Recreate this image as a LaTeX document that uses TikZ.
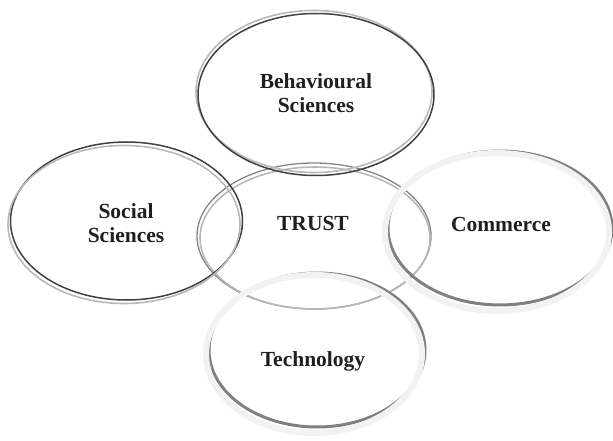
\documentclass[tikz,border=0pt]{standalone}
\usepackage{fontspec}
\setmainfont{Liberation Serif}
\begin{document}
\begin{tikzpicture}[x=1pt,y=-1pt,
  lbl/.style={font=\fontsize{21.5}{24}\selectfont\bfseries, text=black!88, align=center, inner sep=0pt},
  darkring/.style={draw=black!75, line width=1.5pt},
  paleline/.style={draw=black!28, line width=1.6pt},
  midline/.style={draw=black!48, line width=1.3pt},
  band/.style={draw=black!5, line width=6pt},
  shadowline/.style={draw=black!50, line width=3pt}]
\useasboundingbox (0,0) rectangle (613,441);
% TRUST ring
\coordinate (ct) at (314,236);
\draw[midline] (ct) ellipse [x radius=117, y radius=73];
\draw[paleline] ([xshift=1,yshift=-2]ct) ellipse [x radius=115, y radius=71];
% Social Sciences ring
\coordinate (cs) at (125,223);
\draw[darkring] ([xshift=1.5,yshift=2]cs) ellipse [x radius=116, y radius=79];
\draw[paleline] ([xshift=-1,yshift=-1.5]cs) ellipse [x radius=116, y radius=79];
% Behavioural Sciences ring
\coordinate (cb) at (315,93);
\draw[paleline] ([xshift=-1,yshift=1.5]cb) ellipse [x radius=118, y radius=81];
\draw[darkring] ([xshift=1,yshift=-1.5]cb) ellipse [x radius=118, y radius=81];
% Commerce ring
\coordinate (cc) at (497,232);
\draw[shadowline] ([xshift=3,yshift=4]cc) ellipse [x radius=112, y radius=77];
\draw[band] (cc) ellipse [x radius=112, y radius=79];
% Technology ring
\coordinate (cq) at (314,354);
\draw[shadowline] ([xshift=3,yshift=4]cq) ellipse [x radius=108, y radius=77];
\draw[band] (cq) ellipse [x radius=108, y radius=79];
% labels
\node[lbl] (beh) at (316,93) {Behavioural\\Sciences};
\node[lbl] (soc) at (126,223) {Social\\Sciences};
\node[lbl] (tru) at (313,223) {TRUST};
\node[lbl] (com) at (501,224) {Commerce};
\node[lbl] (tec) at (313,361) {Technology};
\end{tikzpicture}
\end{document}
